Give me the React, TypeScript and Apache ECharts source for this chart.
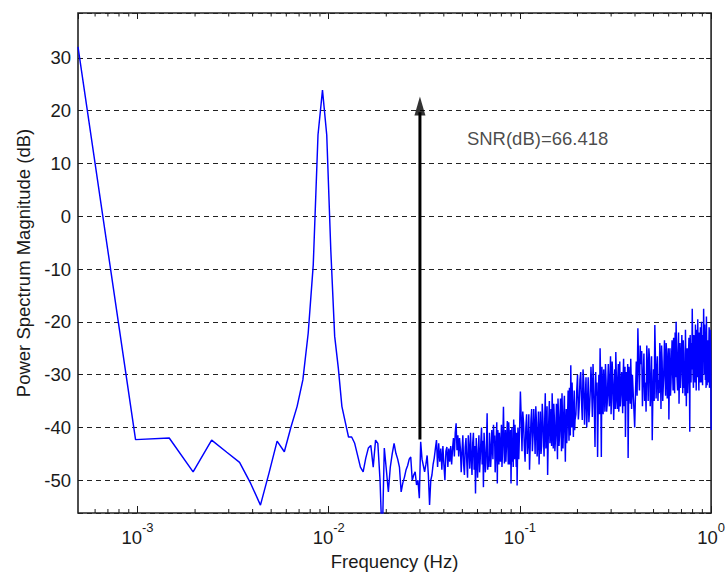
import { useEffect, useRef } from "react";
import * as echarts from "echarts";

// Periodogram bin spacing (Hz): bins k = 1..2048 span 1/2048 .. 1 Hz
const BIN_HZ = 1 / 2048;

// Bins 1..100 (every bin)
const lowBinsDb = [
  32.1, -42.3, -42.0, -48.4, -42.4, -44.7, -46.6, -50.6, -54.7, -48.5,
  -42.6, -44.6, -39.9, -36.0, -31.0, -22.1, -9.2, 15.4, 23.9, 15.4,
  -6.4, -22.7, -28.8, -36.0, -39.0, -41.8, -41.8, -43.0, -45.3, -47.5,
  -48.4, -45.8, -43.9, -43.4, -47.5, -42.4, -43.0, -50.0, -62.0, -43.9,
  -48.0, -52.2, -47.5, -45.0, -43.0, -44.9, -46.0, -47.5, -52.2, -50.5,
  -49.4, -48.0, -47.2, -46.0, -45.6, -50.0, -49.0, -48.4, -50.9, -50.0,
  -53.4, -42.7, -46.0, -47.2, -48.4, -47.0, -45.3, -49.0, -54.7, -50.0,
  -49.0, -47.0, -45.8, -44.0, -42.4, -47.5, -43.0, -46.5, -44.0, -48.0,
  -43.5, -47.0, -50.0, -44.5, -43.7, -47.5, -44.0, -46.5, -43.5, -47.0,
  -44.0, -42.0, -45.5, -41.0, -39.2, -44.3, -41.5, -45.5, -42.0, -44.0,
];

// Bins 101..200 (every bin)
const midBinsDb = [
  -48.5, -44.5, -41.5, -47.0, -49.0, -43.7, -42.0, -46.5, -49.5, -41.5,
  -44.0, -47.8, -41.0, -45.6, -49.0, -43.0, -41.0, -48.0, -43.5, -52.5,
  -42.0, -46.0, -49.5, -44.3, -41.5, -48.5, -46.0, -42.5, -40.0, -47.0,
  -42.5, -51.3, -41.0, -44.0, -48.5, -46.8, -43.0, -37.3, -48.0, -45.5,
  -47.5, -41.0, -43.5, -47.5, -45.0, -40.5, -43.5, -46.0, -39.5, -43.0,
  -41.5, -48.5, -46.0, -42.0, -39.0, -50.6, -40.5, -44.0, -47.0, -41.0,
  -44.0, -46.5, -42.5, -39.5, -47.5, -45.0, -41.0, -36.1, -42.0, -46.8,
  -44.5, -40.5, -46.5, -44.0, -41.5, -38.8, -43.0, -47.0, -39.0, -41.5,
  -47.0, -45.5, -40.5, -50.6, -44.0, -40.0, -46.5, -44.5, -47.5, -38.5,
  -42.0, -46.0, -39.5, -42.0, -44.5, -47.5, -41.0, -51.0, -45.5, -40.0,
];

// Bins 202..398, every 2nd bin
const upperMidBinsDb = [
  -46.0, -40.5, -33.2, -38.0, -44.5, -37.0, -39.0, -43.5, -46.5, -40.0,
  -37.5, -45.0, -43.0, -37.5, -48.0, -43.0, -38.5, -36.5, -44.5, -41.5,
  -36.5, -40.0, -45.0, -36.0, -39.0, -45.5, -42.5, -37.0, -47.0, -42.0,
  -37.0, -45.0, -43.5, -35.5, -38.0, -42.0, -45.5, -39.0, -33.5, -44.0,
  -41.0, -36.0, -49.0, -42.5, -38.5, -35.0, -43.0, -40.5, -36.5, -43.5,
  -33.5, -38.0, -44.0, -35.5, -38.0, -44.5, -42.5, -39.5, -35.5, -41.0,
  -46.0, -34.5, -37.5, -43.5, -41.5, -38.0, -34.5, -40.0, -44.5, -33.5,
  -38.0, -44.0, -40.5, -36.5, -34.0, -41.0, -46.5, -39.5, -36.5, -43.0,
  -40.0, -37.0, -33.0, -38.5, -42.5, -32.5, -36.0, -41.5, -28.2, -35.5,
  -40.0, -31.5, -35.0, -38.5, -41.8, -37.0, -33.0, -40.5, -38.5,
];

// Bins 402..794, every 4th bin
const highBinsDb = [
  -37.5, -33.0, -30.0, -38.5, -36.0, -31.0, -29.5, -35.0, -38.6, -29.0,
  -31.5, -39.5, -34.5, -30.5, -40.0, -35.5, -30.5, -39.0, -36.5, -33.0,
  -28.5, -32.5, -38.0, -28.0, -32.0, -36.5, -43.7, -29.5, -34.0, -31.5,
  -45.6, -36.0, -30.0, -37.5, -25.0, -32.0, -45.6, -28.5, -33.0, -37.5,
  -29.0, -33.0, -37.0, -28.0, -31.0, -37.0, -35.5, -31.5, -28.0, -34.0,
  -36.0, -30.0, -26.5, -37.5, -34.5, -27.5, -30.0, -34.0, -38.6, -32.5,
  -29.0, -36.5, -25.7, -30.0, -35.0, -36.5, -30.5, -28.0, -37.0, -33.5,
  -27.5, -36.0, -34.0, -31.0, -29.5, -33.5, -37.3, -30.5, -27.0, -36.0,
  -33.5, -28.5, -41.8, -34.5, -29.5, -32.0, -35.0, -28.0, -45.8, -36.0,
  -28.5, -31.0, -34.0, -35.5, -27.0, -30.5, -36.5, -33.5, -30.0,
];

// Bins 816..2048, every 8th bin
const topBinsDb = [
  -40.0, -33.5, -27.5, -34.0, -21.2, -28.5, -33.0, -24.5, -28.0, -25.5,
  -36.0, -30.5, -26.0, -35.0, -31.5, -37.0, -24.5, -28.5, -35.0, -25.0,
  -27.0, -36.0, -32.5, -26.5, -42.4, -33.5, -29.0, -35.0, -20.6, -27.0,
  -34.5, -29.5, -26.5, -35.0, -31.0, -33.5, -24.0, -28.0, -36.5, -24.5,
  -27.5, -35.0, -32.0, -28.5, -23.5, -30.0, -34.0, -24.0, -26.0, -34.5,
  -30.5, -25.0, -38.5, -29.5, -25.0, -34.0, -31.5, -27.0, -23.5, -29.5,
  -33.0, -23.0, -27.0, -33.5, -22.0, -30.5, -20.0, -26.0, -31.0, -33.0,
  -25.5, -22.0, -35.5, -29.0, -24.0, -32.5, -30.0, -26.0, -22.5, -28.0,
  -33.5, -23.5, -26.0, -32.5, -29.5, -34.0, -21.5, -27.5, -36.0, -29.5,
  -25.0, -33.5, -31.0, -26.5, -23.0, -29.0, -40.8, -22.5, -27.0, -31.5,
  -24.0, -29.0, -17.5, -24.0, -30.0, -32.5, -22.5, -26.0, -28.0, -31.5,
  -20.5, -24.5, -33.0, -21.5, -24.5, -30.5, -19.5, -25.5, -29.5, -33.0,
  -22.0, -26.5, -31.5, -21.0, -25.0, -31.5, -20.0, -29.0, -27.5, -32.0,
  -22.5, -27.0, -17.5, -24.0, -30.0, -20.5, -23.0, -31.0, -26.5, -32.5,
  -19.0, -25.0, -32.0, -28.0, -23.5, -31.5, -27.5, -25.0, -21.0, -32.5,
  -29.0, -21.5, -24.0, -28.5, -40.5,
];

const spectrumSegments = [
  { firstBin: 1, step: 1, db: lowBinsDb },
  { firstBin: 101, step: 1, db: midBinsDb },
  { firstBin: 202, step: 2, db: upperMidBinsDb },
  { firstBin: 402, step: 4, db: highBinsDb },
  { firstBin: 816, step: 8, db: topBinsDb },
];

// Axes
const X_MIN = BIN_HZ;
const X_MAX = 1;
const Y_MIN = -56.2;
const Y_MAX = 38.5;
const yTickLabels = [-50, -40, -30, -20, -10, 0, 10, 20, 30];
const minorDecades = [-4, -3, -2, -1];
const minorMultipliers = [2, 3, 4, 5, 6, 7, 8, 9];

// SNR annotation
const snrText = "SNR(dB)=66.418";
const arrowFreqHz = 0.03;
const arrowBaseDb = -42.3;
const arrowTipDb = 22.7;
const snrTextFreqHz = 0.0528;
const snrTextDb = 14.8;

const FONT = '"Liberation Sans", Arial, Helvetica, sans-serif';
const INK = "#1a1a1a";

export default function App() {
  const ref = useRef<HTMLDivElement>(null);

  useEffect(() => {
    document.body.style.margin = "0";
    if (!ref.current) return;
    const chart = echarts.init(ref.current, undefined, { renderer: "svg" });

    const spectrum = spectrumSegments.flatMap((s) =>
      s.db.map((v, i) => [(s.firstBin + i * s.step) * BIN_HZ, v])
    );

    const minorTicks: number[][] = [];
    minorDecades.forEach((e) =>
      minorMultipliers.forEach((m) => {
        const f = m * Math.pow(10, e);
        if (f > X_MIN * 1.05 && f < X_MAX) minorTicks.push([f, 0]);
      })
    );

    const isDecade = (v: number) => {
      const l = Math.log10(v);
      return Math.abs(l - Math.round(l)) < 1e-6;
    };

    const tickLine = { color: INK, width: 1 };

    chart.setOption({
      animation: false,
      backgroundColor: "#ffffff",
      grid: {
        left: 78,
        right: 16,
        top: 13,
        bottom: 63,
        show: true,
        borderColor: "#222222",
        borderWidth: 1.6,
        backgroundColor: "transparent",
      },
      xAxis: [
        {
          type: "log",
          logBase: 10,
          min: X_MIN,
          max: X_MAX,
          position: "bottom",
          axisLine: { show: false, onZero: false },
          axisTick: { show: true, inside: true, length: 7, lineStyle: tickLine },
          splitLine: { show: false },
          axisLabel: {
            margin: 8,
            showMinLabel: false,
            formatter: (v: number) =>
              isDecade(v) ? `{base|10}{exp|${Math.round(Math.log10(v))}}` : "",
            rich: {
              base: { fontSize: 18.5, fontFamily: FONT, color: INK },
              exp: { fontSize: 13, fontFamily: FONT, color: INK, padding: [0, 0, 20, 0] },
            },
          },
          name: "Frequency (Hz)",
          nameLocation: "middle",
          nameGap: 38,
          nameTextStyle: { fontSize: 18.5, fontFamily: FONT, color: INK },
        },
        {
          type: "log",
          logBase: 10,
          min: X_MIN,
          max: X_MAX,
          position: "top",
          axisLine: { show: false, onZero: false },
          axisTick: { show: true, inside: true, length: 6, lineStyle: tickLine },
          splitLine: { show: false },
          axisLabel: { show: false },
        },
      ],
      yAxis: [
        {
          type: "value",
          min: Y_MIN,
          max: Y_MAX,
          splitNumber: 9,
          position: "left",
          axisLine: { show: false, onZero: false },
          axisTick: { show: true, inside: true, length: 5, lineStyle: tickLine },
          splitLine: {
            show: true,
            lineStyle: { type: [5, 4], color: "#222222", width: 1 },
          },
          axisLabel: {
            margin: 7,
            showMinLabel: false,
            showMaxLabel: false,
            fontSize: 18.5,
            fontFamily: FONT,
            color: INK,
            formatter: (v: number) =>
              yTickLabels.some((t) => Math.abs(t - v) < 1e-6) ? String(Math.round(v)) : "",
          },
          name: "Power Spectrum Magnitude (dB)",
          nameLocation: "middle",
          nameGap: 45,
          nameRotate: 90,
          nameTextStyle: { fontSize: 18.5, fontFamily: FONT, color: INK },
        },
        {
          type: "value",
          min: Y_MIN,
          max: Y_MAX,
          splitNumber: 9,
          position: "right",
          axisLine: { show: false, onZero: false },
          axisTick: { show: true, inside: true, length: 5, lineStyle: tickLine },
          splitLine: { show: false },
          axisLabel: { show: false },
        },
      ],
      series: [
        {
          name: "PSD",
          type: "line",
          data: spectrum,
          showSymbol: false,
          symbol: "none",
          lineStyle: { color: "#0000ff", width: 1.45 },
          z: 3,
          silent: true,
        },
        {
          name: "minorTicks",
          type: "custom",
          coordinateSystem: "cartesian2d",
          data: minorTicks,
          silent: true,
          clip: false,
          z: 6,
          renderItem: (params: any, api: any) => {
            const cs = params.coordSys;
            const x = api.coord([api.value(0), 0])[0];
            const style = { stroke: INK, lineWidth: 1 };
            const bottom = cs.y + cs.height;
            return {
              type: "group",
              children: [
                { type: "line", shape: { x1: x, y1: bottom, x2: x, y2: bottom - 4 }, style },
                { type: "line", shape: { x1: x, y1: cs.y, x2: x, y2: cs.y + 3.5 }, style },
              ],
            };
          },
        },
        {
          name: "snrShaft",
          type: "line",
          data: [
            [arrowFreqHz, arrowBaseDb],
            [arrowFreqHz, arrowTipDb - 3],
          ],
          showSymbol: false,
          symbol: "none",
          lineStyle: { color: "#000000", width: 3 },
          z: 8,
          silent: true,
        },
        {
          name: "snrHead",
          type: "scatter",
          data: [[arrowFreqHz, arrowTipDb]],
          symbol: "triangle",
          symbolSize: [11, 19],
          symbolOffset: [0, "50%"],
          itemStyle: { color: "#000000" },
          z: 9,
          silent: true,
        },
        {
          name: "snrLabel",
          type: "scatter",
          data: [[snrTextFreqHz, snrTextDb]],
          symbolSize: 0,
          silent: true,
          z: 9,
          label: {
            show: true,
            position: "right",
            distance: 0,
            formatter: snrText,
            fontSize: 18.5,
            fontFamily: FONT,
            color: INK,
          },
        },
      ],
    });

    return () => chart.dispose();
  }, []);

  return <div ref={ref} style={{ width: 728, height: 576 }} />;
}
